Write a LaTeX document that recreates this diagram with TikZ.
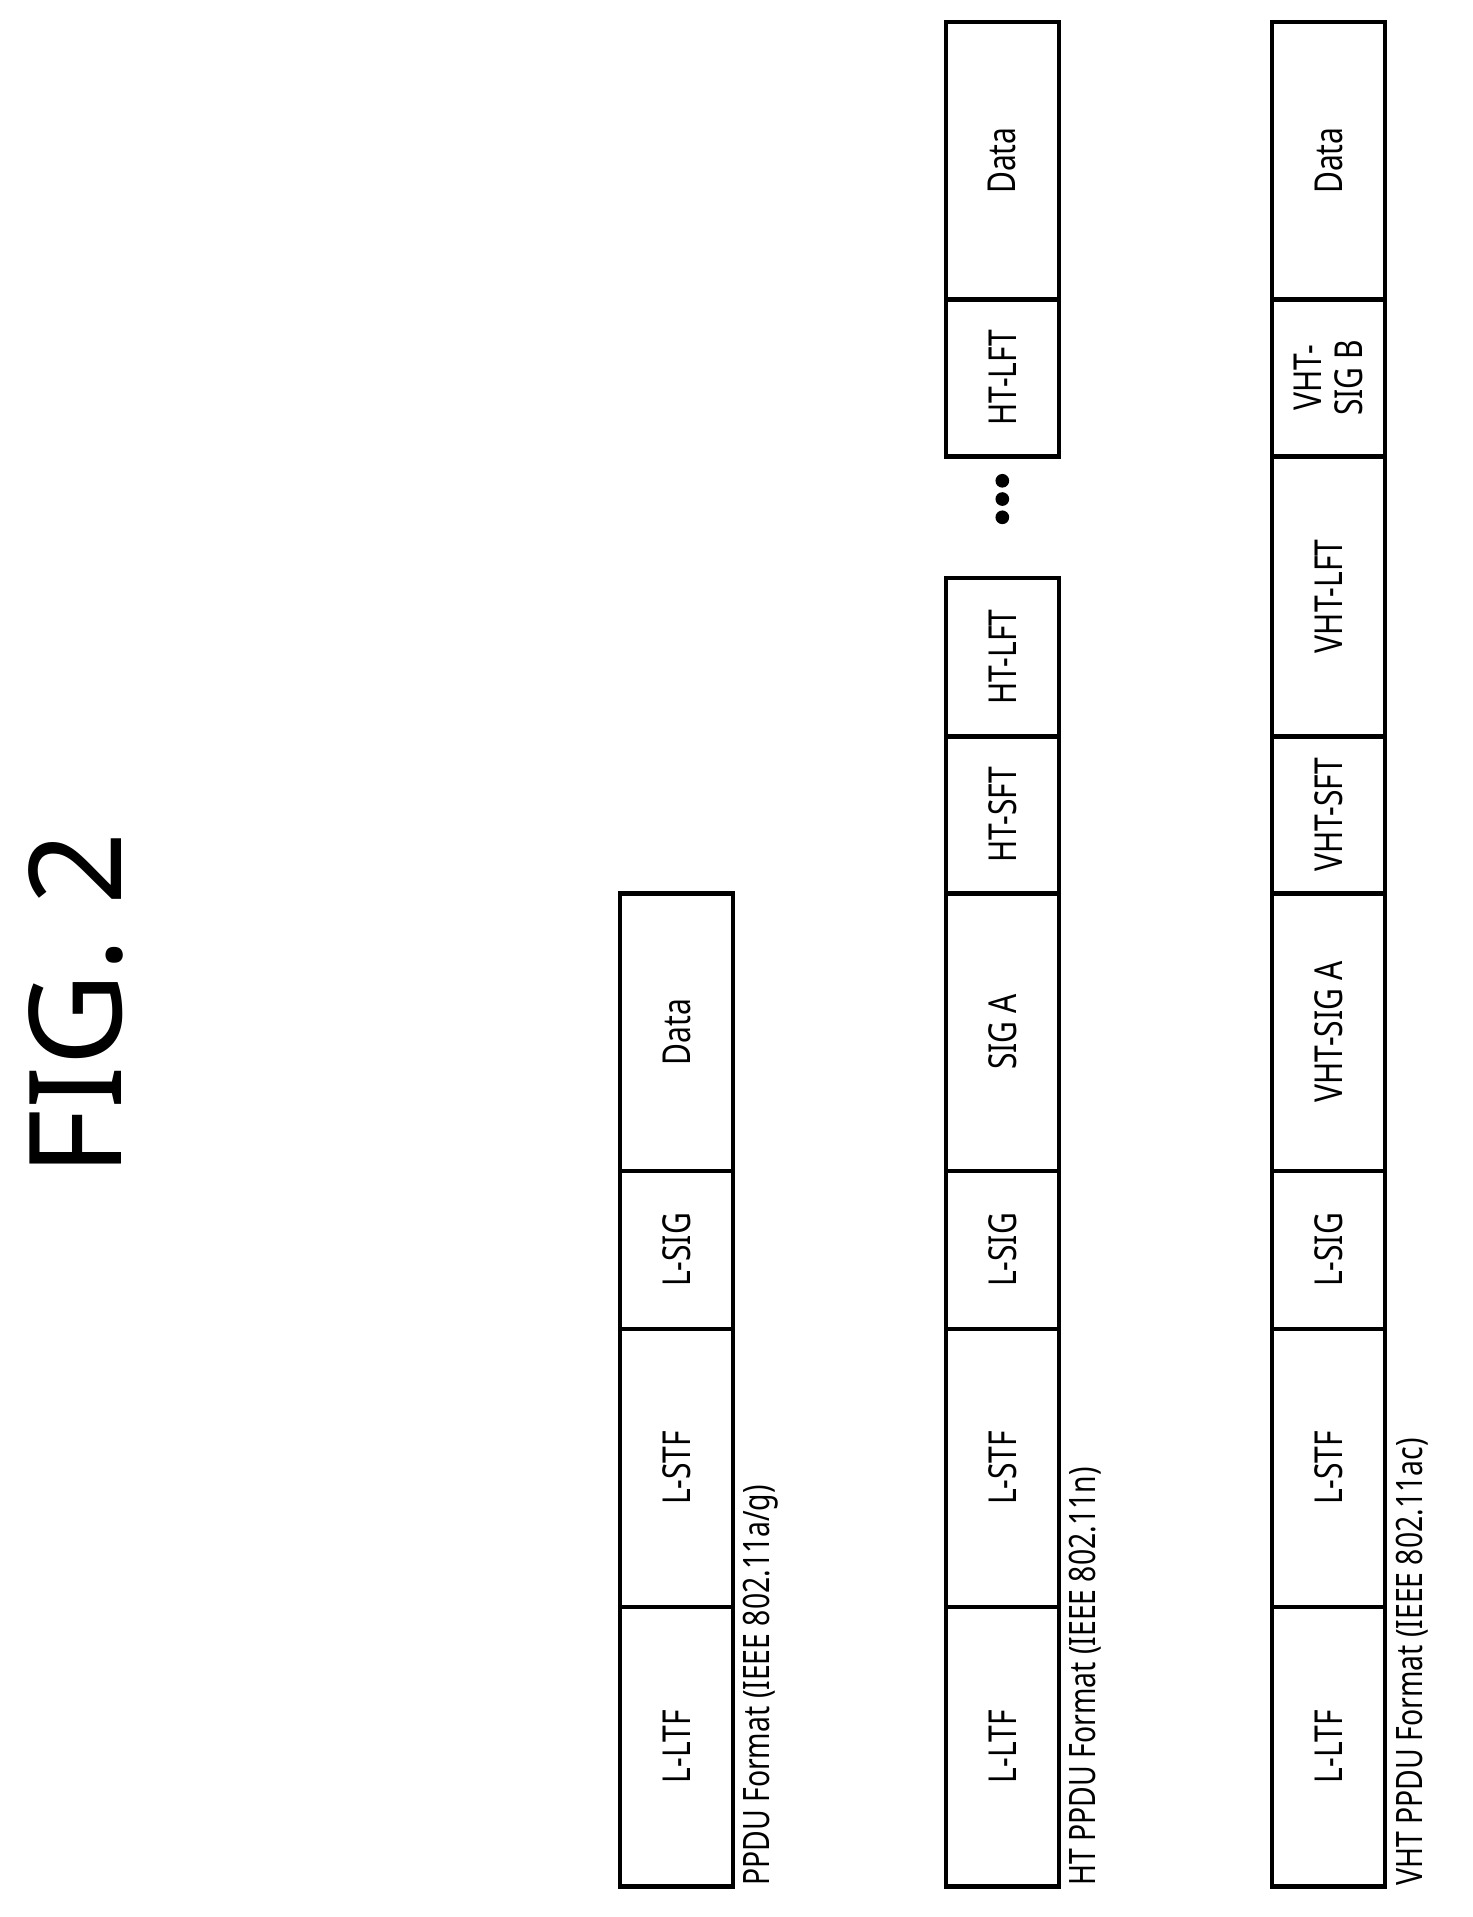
\documentclass[tikz,border=0pt]{standalone}
\usepackage{fontspec}
\setmainfont{Noto Sans}[FakeStretch=0.78]
\newfontfamily\figfont{Noto Sans}

\begin{document}
\begin{tikzpicture}[
    field/.style  = {draw, line width=1pt, rotate=90, minimum height=0.93cm,
                     inner sep=0pt, font=\fontsize{9}{10}\selectfont},
    caption/.style = {rotate=90, anchor=north west, inner sep=0pt,
                     font=\fontsize{8.5}{10}\selectfont}]
  \useasboundingbox (0,0) rectangle (12.10,-15.75);

% title
\node[rotate=90, font=\figfont\fontsize{30}{34}\selectfont] (title) at (0.62,-8.25) {FIG. 2};

% row 1: PPDU 802.11a/g
\foreach \lab/\ya/\yb [count=\i] in {L-LTF/15.50/13.20, L-STF/13.20/10.92,
                                     L-SIG/10.92/9.62, Data/9.62/7.34}
  \node[field, minimum width={(\ya-\yb)*1cm}] (ra\i) at (5.56,{-(\ya+\yb)/2}) {\lab};
\node[caption] (ralab) at (6.10,-15.50) {PPDU Format (IEEE 802.11a/g)};

% row 2: HT PPDU 802.11n
\foreach \lab/\ya/\yb [count=\i] in {L-LTF/15.50/13.20, L-STF/13.20/10.92,
                                     L-SIG/10.92/9.62, SIG A/9.62/7.34,
                                     HT-SFT/7.34/6.05, HT-LFT/6.05/4.75,
                                     HT-LFT/3.75/2.46, Data/2.46/0.18}
  \node[field, minimum width={(\ya-\yb)*1cm}] (rb\i) at (8.235,{-(\ya+\yb)/2}) {\lab};
\node[caption] (rblab) at (8.78,-15.50) {HT PPDU Format (IEEE 802.11n)};

% dots between the split parts
\foreach \d in {3.95,4.10,4.25}
  \fill (8.235,-\d) circle (1.6pt);

% row 3: VHT PPDU 802.11ac
\foreach \lab/\ya/\yb [count=\i] in {L-LTF/15.50/13.20, L-STF/13.20/10.92,
                                     L-SIG/10.92/9.62, VHT-SIG A/9.62/7.34,
                                     VHT-SFT/7.34/6.05, VHT-LFT/6.05/3.75,
                                     {\shortstack{VHT-\\SIG B}}/3.75/2.46, Data/2.46/0.18}
  \node[field, minimum width={(\ya-\yb)*1cm}] (rc\i) at (10.915,{-(\ya+\yb)/2}) {\lab};
\node[caption] (rclab) at (11.46,-15.50) {VHT PPDU Format (IEEE 802.11ac)};

\end{tikzpicture}
\end{document}
